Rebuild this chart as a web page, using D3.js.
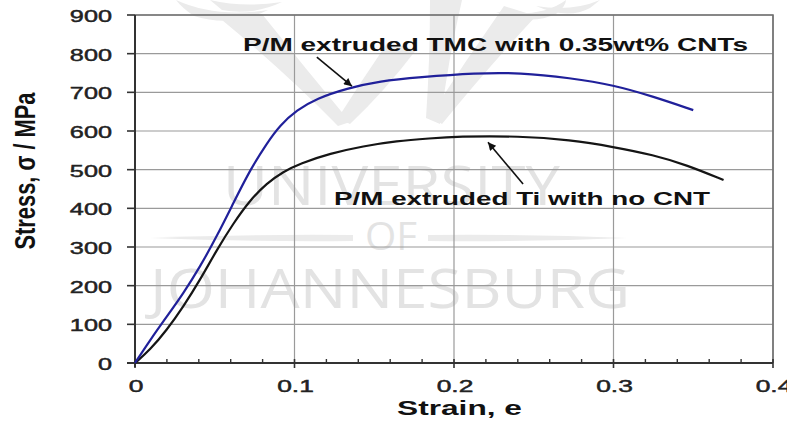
<!DOCTYPE html>
<html>
<head>
<meta charset="utf-8">
<script src="https://cdn.jsdelivr.net/npm/d3@7"></script>
<style>
  html, body { margin: 0; padding: 0; background: #fff; }
  svg { display: block; }
</style>
</head>
<body>
<svg id="chart" width="787" height="422"></svg>
<script>
// Tensile stress-strain curves: P/M extruded Ti vs. Ti matrix composite with CNTs
const xTicks = [0, 0.1, 0.2, 0.3, 0.4];
const xTickLabels = ["0", "0.1", "0.2", "0.3", "0.4"];
const xMinorTicks = [0.02, 0.04, 0.06, 0.08, 0.12, 0.14, 0.16, 0.18, 0.22, 0.24, 0.26, 0.28, 0.32, 0.34, 0.36, 0.38];
const yTicks = [0, 100, 200, 300, 400, 500, 600, 700, 800, 900];
const yTickLabels = ["0", "100", "200", "300", "400", "500", "600", "700", "800", "900"];

const cntStrain = [0, 0.0094, 0.0199, 0.0303, 0.0408, 0.0512, 0.0616, 0.0721, 0.0826, 0.0909, 0.1014, 0.1139, 0.1327, 0.1536, 0.178, 0.214, 0.241, 0.273, 0.300, 0.325, 0.350];
const cntStress = [0, 59, 120, 180, 249, 327, 413, 499, 568, 615, 654, 684, 710, 729, 739, 750, 751, 737, 719, 689, 654];

const tiStrain = [0, 0.0094, 0.0199, 0.0303, 0.0408, 0.0512, 0.0616, 0.0721, 0.0826, 0.093, 0.1034, 0.1223, 0.1431, 0.164, 0.185, 0.2017, 0.2414, 0.2727, 0.300, 0.325, 0.346, 0.369];
const tiStress = [0, 34, 85, 146, 215, 292, 361, 421, 465, 495, 516, 542, 561, 574, 581, 586, 587, 577, 559, 538, 512, 473];

const cntLabel = "P/M extruded TMC with 0.35wt% CNTs";
const tiLabel = "P/M extruded Ti with no CNT";
// label anchor and arrow (tail -> head) in data units
const cntLabelPos = [0.0677, 807];
const cntArrow = [[0.114, 791], [0.136, 716]];
const tiLabelPos = [0.1248, 409];
const tiArrow = [[0.2433, 463], [0.2213, 571]];

const xTitle = "Strain, e";
const yTitle = "Stress, σ / MPa";

const svg = d3.select("#chart");
const x = d3.scaleLinear().domain([0, 0.4]).range([135, 773]);
const y = d3.scaleLinear().domain([0, 900]).range([363, 15]);
const FONT = "'Liberation Sans', Arial, Helvetica, sans-serif";

// stretch a text element horizontally to a target width
function fitWidth(sel, w) {
  sel.attr("textLength", w).attr("lengthAdjust", "spacingAndGlyphs");
}
function stretchBy(sel, k) {
  sel.each(function () {
    const len = this.getComputedTextLength();
    d3.select(this).attr("textLength", len * k).attr("lengthAdjust", "spacingAndGlyphs");
  });
}

// --- faint watermark emblem and lettering ---
const wm = svg.append("g").attr("fill", "#ebebeb").attr("stroke", "none");
wm.append("path").attr("d", "M222,20 L262,14 Q305,68 350,122 L338,126 Q285,72 222,20 Z");
wm.append("path").attr("d", "M388,42 L416,50 Q384,92 350,124 L338,118 Q362,80 388,42 Z");
wm.append("path").attr("d", "M430,0 L462,0 Q448,60 440,124 L426,118 Q430,60 430,0 Z");
wm.append("path").attr("d", "M504,6 L536,16 Q484,72 442,124 L430,116 Q466,60 504,6 Z");
wm.append("path").attr("d", "M176,0 Q215,18 268,10 Q232,28 194,16 Q182,8 176,0 Z");
wm.append("path").attr("d", "M210,0 Q244,8 282,2 Q252,16 222,10 Z");
wm.append("path").attr("d", "M566,0 Q542,18 496,12 Q530,26 556,14 Q566,6 566,0 Z");
wm.append("path").attr("d", "M600,0 Q572,12 536,6 Q568,20 590,8 Z");
wm.append("path").attr("d", "M150,238 Q250,234 353,235 L353,241 Q250,242 150,238 Z");
wm.append("path").attr("d", "M428,235 Q530,234 627,238 Q530,242 428,241 Z");
const wmText = svg.append("g").attr("fill", "#e3e3e3")
  .attr("font-family", "'Open Sans', Lato, sans-serif").attr("font-weight", 400);
wmText.append("text").attr("x", 223).attr("y", 205).attr("font-size", 55).text("UNIVERSITY").call(fitWidth, 337);
wmText.append("text").attr("x", 365).attr("y", 250).attr("font-size", 38).text("OF").call(fitWidth, 52);
wmText.append("text").attr("x", 150).attr("y", 308).attr("font-size", 55).text("JOHANNESBURG").call(fitWidth, 480);

// --- grid ---
const grid = svg.append("g").attr("stroke", "#9a9a9a").attr("stroke-width", 1.2);
grid.selectAll("line.h").data(yTicks.slice(1)).join("line")
  .attr("x1", x(0)).attr("x2", x(0.4)).attr("y1", d => y(d)).attr("y2", d => y(d));
grid.selectAll("line.v").data(xTicks.slice(1)).join("line")
  .attr("x1", d => x(d)).attr("x2", d => x(d)).attr("y1", y(0)).attr("y2", y(900));
// frame top/right
svg.append("path")
  .attr("d", `M${x(0)},${y(900)} H${x(0.4)} V${y(0)}`)
  .attr("fill", "none").attr("stroke", "#707070").attr("stroke-width", 1.6);

// --- axes ---
const axisColor = "#333";
svg.append("line").attr("x1", x(0)).attr("x2", x(0)).attr("y1", y(900)).attr("y2", y(0) + 4)
  .attr("stroke", axisColor).attr("stroke-width", 2);
svg.append("line").attr("x1", x(0) - 8).attr("x2", x(0.4)).attr("y1", y(0)).attr("y2", y(0))
  .attr("stroke", axisColor).attr("stroke-width", 2);
svg.append("g").selectAll("line").data(yTicks).join("line")
  .attr("x1", x(0) - 8).attr("x2", x(0)).attr("y1", d => y(d)).attr("y2", d => y(d))
  .attr("stroke", axisColor).attr("stroke-width", 1.6);
svg.append("g").selectAll("line").data(xTicks).join("line")
  .attr("x1", d => x(d)).attr("x2", d => x(d)).attr("y1", y(0) - 4).attr("y2", y(0) + 5)
  .attr("stroke", axisColor).attr("stroke-width", 1.6);
svg.append("g").selectAll("line").data(xMinorTicks).join("line")
  .attr("x1", d => x(d)).attr("x2", d => x(d)).attr("y1", y(0) - 4).attr("y2", y(0))
  .attr("stroke", axisColor).attr("stroke-width", 1.4);

// tick labels
svg.append("g").selectAll("text").data(yTicks).join("text")
  .attr("x", 112).attr("y", d => y(d) + 7)
  .attr("text-anchor", "end").attr("font-family", FONT).attr("font-size", 16.5)
  .attr("fill", "#222").attr("stroke", "#222").attr("stroke-width", 0.45)
  .text((d, i) => yTickLabels[i])
  .call(stretchBy, 1.53);
svg.append("g").selectAll("text").data(xTicks).join("text")
  .attr("x", d => x(d) + 1).attr("y", 392)
  .attr("text-anchor", "middle").attr("font-family", FONT).attr("font-size", 16.5)
  .attr("fill", "#222").attr("stroke", "#222").attr("stroke-width", 0.45)
  .text((d, i) => xTickLabels[i])
  .call(stretchBy, 1.6);

// axis titles
svg.append("text").attr("x", 397).attr("y", 415)
  .attr("font-family", FONT).attr("font-weight", "bold").attr("font-size", 19.5)
  .attr("fill", "#111").text(xTitle).call(fitWidth, 125);
svg.append("text")
  .attr("transform", "translate(35,171) scale(1.47,1) rotate(-90)")
  .attr("text-anchor", "middle")
  .attr("font-family", FONT).attr("font-weight", "bold").attr("font-size", 20.5)
  .attr("fill", "#111").text(yTitle).call(fitWidth, 157);

// --- curves ---
const line = d3.line().x(d => x(d[0])).y(d => y(d[1])).curve(d3.curveBasis);
const tiData = d3.zip(tiStrain, tiStress);
const cntData = d3.zip(cntStrain, cntStress);
svg.append("path").datum(tiData).attr("d", line)
  .attr("fill", "none").attr("stroke", "#151515").attr("stroke-width", 2.2);
svg.append("path").datum(cntData).attr("d", line)
  .attr("fill", "none").attr("stroke", "#20209a").attr("stroke-width", 2.2);

// --- annotations ---
svg.append("defs").append("marker")
  .attr("id", "arrow").attr("viewBox", "0 0 10 10").attr("refX", 10).attr("refY", 5)
  .attr("markerWidth", 10).attr("markerHeight", 8).attr("markerUnits", "userSpaceOnUse")
  .attr("orient", "auto")
  .append("path").attr("d", "M0,0 L10,5 L0,10 Z").attr("fill", "#111");

[cntArrow, tiArrow].forEach(a => {
  svg.append("line")
    .attr("x1", x(a[0][0])).attr("y1", y(a[0][1]))
    .attr("x2", x(a[1][0])).attr("y2", y(a[1][1]))
    .attr("stroke", "#111").attr("stroke-width", 1.6)
    .attr("marker-end", "url(#arrow)");
});

svg.append("text").attr("x", x(cntLabelPos[0])).attr("y", y(cntLabelPos[1]))
  .attr("font-family", FONT).attr("font-weight", "bold").attr("font-size", 19)
  .attr("fill", "#111").text(cntLabel).call(fitWidth, 505);
svg.append("text").attr("x", x(tiLabelPos[0])).attr("y", y(tiLabelPos[1]))
  .attr("font-family", FONT).attr("font-weight", "bold").attr("font-size", 19)
  .attr("fill", "#111").text(tiLabel).call(fitWidth, 376);
</script>
</body>
</html>
